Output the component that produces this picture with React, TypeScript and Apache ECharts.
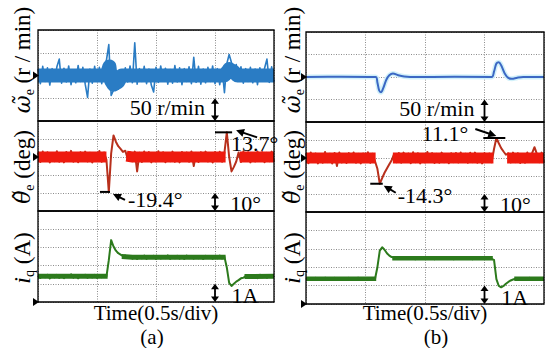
import React, { useEffect, useRef } from "react";
import * as echarts from "echarts";

const FONT = "'Liberation Serif', serif";
const GREEK = "'DejaVu Serif', serif";

// time axis in divisions (0.5 s/div), samples every 0.04 div
const STEP = 0.04;
const timeRange = [0, 4];
const speedRange = [-100, 100]; // r/min, 50 r/min per div
const angleRange = [-30, 20]; // deg, 10 deg per div
const currentRange = [0, 5]; // A, 1 A per div
const intervals = [50, 10, 1];

// (a) speed error, r/min
const speedA = [
  14, -18, 20, -13, 17, -21, 15, -12, 19, 36,
  -17, 16, -14, 21, -20, 12, -16, 22, -13, 18,
  -19, -48, 14, -17, 20, -13, 18, -18, 22, 34,
  68, -44, -32, -24, -30, 8, -20, 17, -14, 21,
  -16, 72, -19, 15, -13, 20, -18, 14, -21, -36,
  18, -15, 21, -12, 16, -19, 13, -17, 22, -14,
  17, -20, 15, -13, 19, -18, 40, -15, 20, -19,
  14, -16, 18, -13, 21, -18, 15, -20, 16, -38,
  26, 46, 28, 8, 24, -12, 19, -17, 15, -13,
  18, -16, 14, -20, 17, -12, 16, 36, -15, 19, -14,
];
// (a) speed error, centre of the noise band [div, r/min]
const speedBandA = [
  [[0, 0], [1.14, 0], [1.18, 8], [1.21, 20], [1.24, -12], [1.28, -20], [1.36, -14], [1.42, 0],
   [3.16, 0], [3.2, 6], [3.24, 14], [3.32, 8], [3.38, 0], [4, 0]],
];

// (a) angle error, deg
const angleA = [
  2.5, -2.8, 3, -2, 2.6, -3, 1.8, -2.4, 3.2, -2.6,
  2.2, -3, 2.8, -1.8, 3.4, -2.6, 2, -2.9, 2.6, -2.2,
  3, -2.5, 2.4, -3.1, 2.2, -2, 3.3, -2.7, 2.5, -1.5,
  -19.4, 2, 12, 8.5, 6, 4.5, 2.8, 3.5, -1, 2.6,
  -2.4, 3, -8, 2.4, -2.8, 3.1, -2.2, 2.7, -3, 2,
  -2.5, 3.2, -2.1, 2.6, -2.9, 2.2, -2.4, 3, -2.7, 2.1,
  -3, 2.8, -2.2, 2.5, -2.6, 3.1, -5, 2.3, -2.8, 2.6,
  -2.2, 3, -2.5, 2.2, -3.1, 2.7, -2, 2.9, -2.6, 2.4,
  13.7, 0, -8, -5.5, -2.5, 2.5, -2.8, 3, -2.2, 2.6,
  -3, 2.2, -2.5, 3.1, -2.1, 2.7, -2.9, 2.3, -2.4, 3, -2.6,
];
const angleBandA = [
  [[0, 0], [1.16, 0]],
  [[1.5, 0.5], [1.6, 0], [3.18, 0]],
  [[3.42, 0], [4, 0]],
];

// (a) q-axis current, A
const currentA = [
  1.45, 1.32, 1.48, 1.36, 1.5, 1.3, 1.44, 1.35, 1.49, 1.33,
  1.46, 1.31, 1.47, 1.38, 1.52, 1.34, 1.45, 1.3, 1.48, 1.37,
  1.5, 1.33, 1.46, 1.35, 1.49, 1.32, 1.47, 1.36, 1.44, 1.4,
  2.3, 3.4, 3.05, 2.82, 2.68, 2.6, 2.52, 2.56, 2.44, 2.53,
  2.38, 2.5, 2.36, 2.52, 2.4, 2.55, 2.37, 2.5, 2.42, 2.54,
  2.36, 2.51, 2.39, 2.53, 2.41, 2.56, 2.37, 2.5, 2.4, 2.54,
  2.38, 2.52, 2.36, 2.55, 2.41, 2.5, 2.38, 2.53, 2.4, 2.51,
  2.36, 2.54, 2.42, 2.5, 2.37, 2.53, 2.4, 2.55, 2.39, 2.48,
  1.9, 1.05, 0.88, 1.0, 1.12, 1.2, 1.3, 1.33, 1.42, 1.32,
  1.48, 1.35, 1.46, 1.31, 1.5, 1.36, 1.45, 1.33, 1.48, 1.37, 1.44,
];
const currentBandA = [
  [[0, 1.41], [1.18, 1.41]],
  [[1.42, 2.5], [1.6, 2.46], [3.18, 2.46]],
  [[3.5, 1.4], [4, 1.41]],
];

// (b) speed error, [div, r/min]
const speedB = [
  [0, 0], [0.6, 0.5], [1.17, 0], [1.2, -12], [1.23, -30], [1.26, -34],
  [1.3, -24], [1.35, -6], [1.4, 4], [1.46, 8], [1.55, 4], [1.65, 1],
  [1.75, 0], [2.5, 0.5], [3.12, 0], [3.16, 12], [3.2, 30], [3.24, 33],
  [3.28, 26], [3.34, 8], [3.4, -2], [3.46, -4], [3.55, -1.5], [3.65, 0],
  [4, 0],
];

// (b) angle error, deg
const angleB = [
  2.6, -2.9, 3.1, -2.2, 2.5, -3, 2, -2.6, 3.3, -2.3,
  2.4, -3.1, 2.8, -4.5, 3, -2.5, 2.2, -2.8, 2.7, -2.1,
  3.1, -2.6, 2.3, -3, 2.5, -2.2, 3.2, -2.7, 2.4, -1.8,
  -6, -14.3, -11.2, -8.2, -5.8, -3.5, -1.2, 2.2, -2.4, 2.8,
  -2.6, 3, -2.2, 2.5, -2.9, 3.2, -2.4, 2.6, -3, 2.1,
  -2.5, 3.3, -2.2, 2.7, -2.8, 2.3, -2.6, 3, -2.4, 2.2,
  -2.9, 2.6, -2.3, 2.8, -2.5, 3.1, -2.2, 2.4, -2.7, 2.9,
  -2.3, 3, -2.6, 2.2, -3, 2.7, -2.1, 2.5, -2.4, 5,
  11.1, 8.2, 5.5, 3.6, 1.8, 2.6, -2.5, 3, -2.3, 2.6,
  -2.8, 2.2, -2.6, 3.1, -2.2, 2.7, 6, 2.3, -2.4, 3, -2.6,
];
const angleBandB = [
  [[0, 0], [1.17, 0]],
  [[1.46, 0], [3.15, 0]],
  [[3.38, 0], [4, 0]],
];

// (b) q-axis current, A
const currentB = [
  1.4, 1.31, 1.41, 1.33, 1.42, 1.3, 1.39, 1.32, 1.43, 1.34,
  1.4, 1.3, 1.42, 1.35, 1.41, 1.31, 1.39, 1.33, 1.42, 1.3,
  1.4, 1.34, 1.43, 1.32, 1.39, 1.31, 1.41, 1.33, 1.4, 1.36,
  2.0, 2.9, 3.08, 2.95, 2.76, 2.63, 2.55, 2.53, 2.47, 2.53,
  2.45, 2.52, 2.44, 2.53, 2.46, 2.51, 2.43, 2.52, 2.45, 2.53,
  2.44, 2.51, 2.46, 2.54, 2.43, 2.52, 2.45, 2.51, 2.44, 2.53,
  2.46, 2.52, 2.43, 2.51, 2.45, 2.54, 2.44, 2.52, 2.46, 2.51,
  2.43, 2.53, 2.45, 2.52, 2.44, 2.51, 2.46, 2.53, 2.45, 2.4,
  1.35, 0.98, 0.91, 0.98, 1.1, 1.2, 1.28, 1.33, 1.38, 1.32,
  1.41, 1.33, 1.4, 1.31, 1.42, 1.34, 1.39, 1.3, 1.41, 1.33, 1.38,
];
const currentBandB = [
  [[0, 1.37], [1.18, 1.37]],
  [[1.45, 2.49], [3.14, 2.49]],
  [[3.5, 1.37], [4, 1.37]],
];

const peaksA = [-19.4, 13.7];
const peaksB = [-14.3, 11.1];
const scaleLabels = ["50 r/min", "10°", "1A"];
const panelLabels = ["(a)", "(b)"];
const timeLabel = "Time(0.5s/div)";
const yTitles = [
  "{g|ω̃}{s|e}{n| (r / min)}",
  "{g|θ̃}{s|e}{n| (deg)}",
  "{m|i}{s|q}{n| (A)}",
];

const PANELS = [
  { left: 38, width: 236, tops: [30, 121, 211], heights: [91, 90, 91] },
  { left: 306, width: 238, tops: [32, 122, 212], heights: [90, 90, 92] },
];
const RANGES = [speedRange, angleRange, currentRange];

const px = (p: number, x: number) =>
  PANELS[p].left + ((x - timeRange[0]) / (timeRange[1] - timeRange[0])) * PANELS[p].width;
const py = (p: number, r: number, v: number) =>
  PANELS[p].tops[r] + ((RANGES[r][1] - v) / (RANGES[r][1] - RANGES[r][0])) * PANELS[p].heights[r];

const toXY = (arr: number[]) => arr.map((v, i) => [i * STEP, v]);

function arrowHead(x1: number, y1: number, x2: number, y2: number, len = 7, half = 3.5) {
  const dx = x2 - x1, dy = y2 - y1;
  const L = Math.hypot(dx, dy) || 1;
  const ux = dx / L, uy = dy / L;
  const bx = x2 - ux * len, by = y2 - uy * len;
  return {
    type: "polygon", z: 110,
    shape: { points: [[x2, y2], [bx - uy * half, by + ux * half], [bx + uy * half, by - ux * half]] },
    style: { fill: "#000" },
  };
}
function arrow(x1: number, y1: number, x2: number, y2: number, len = 8, half = 4) {
  const dx = x2 - x1, dy = y2 - y1;
  const L = Math.hypot(dx, dy) || 1;
  return [
    { type: "line", z: 110, shape: { x1, y1, x2: x2 - (dx / L) * len * 0.8, y2: y2 - (dy / L) * len * 0.8 }, style: { stroke: "#000", lineWidth: 2 } },
    arrowHead(x1, y1, x2, y2, len, half),
  ];
}
function dblArrow(x: number, y1: number, y2: number) {
  return [
    { type: "line", z: 110, shape: { x1: x, y1: y1 + 4, x2: x, y2: y2 - 4 }, style: { stroke: "#000", lineWidth: 1.8 } },
    arrowHead(x, y2, x, y1, 5.5, 4),
    arrowHead(x, y1, x, y2, 5.5, 4),
  ];
}
function txt(x: number, y: number, text: string, align = "left", size = 22) {
  return {
    type: "text", z: 120, x, y,
    style: { text, fill: "#000", font: `${size}px ${FONT}`, align, verticalAlign: "middle" },
  };
}
function hline(x1: number, x2: number, y: number) {
  return { type: "line", z: 110, shape: { x1, y1: y, x2, y2: y }, style: { stroke: "#000", lineWidth: 2 } };
}
function vlabel(x: number, y: number, text: string) {
  return {
    type: "text", z: 120, x, y, rotation: Math.PI / 2,
    style: {
      text, fill: "#000", font: `23px ${FONT}`, align: "center", verticalAlign: "middle",
      rich: {
        g: { fontFamily: GREEK, fontSize: 22, fontStyle: "italic", lineHeight: 28, verticalAlign: "middle" },
        m: { fontFamily: FONT, fontSize: 24, fontStyle: "italic", lineHeight: 28, verticalAlign: "middle" },
        s: { fontFamily: FONT, fontSize: 14, lineHeight: 14, verticalAlign: "bottom" },
        n: { fontFamily: FONT, fontSize: 23, lineHeight: 28, verticalAlign: "middle" },
      },
    },
  };
}

function buildGraphics() {
  const g: any[] = [];
  for (let p = 0; p < 2; p++) {
    const P = PANELS[p];
    for (let r = 0; r < 3; r++) {
      g.push({ type: "rect", z: 100, shape: { x: P.left, y: P.tops[r], width: P.width, height: P.heights[r] },
        style: { fill: "none", stroke: "#000", lineWidth: 1.3 } });
      const y0 = py(p, r, 0);
      g.push({ type: "polygon", z: 105, shape: { points: [[P.left + 1, y0], [P.left - 5, y0 - 4], [P.left - 5, y0 + 4]] }, style: { fill: "#000" } });
    }
    const xs = px(p, 3);
    g.push(...dblArrow(xs, py(p, 0, -50), py(p, 0, -100)));
    g.push(txt(px(p, 2.83), (py(p, 0, -50) + py(p, 0, -100)) / 2 - 2, scaleLabels[0], "right"));
    g.push(...dblArrow(xs, py(p, 1, -20), py(p, 1, -30)));
    g.push(txt(px(p, 3.26), (py(p, 1, -20) + py(p, 1, -30)) / 2 + 1, scaleLabels[1], "left"));
    g.push(...dblArrow(xs, py(p, 2, 1), py(p, 2, 0)));
    g.push(txt(px(p, 3.28), (py(p, 2, 1) + py(p, 2, 0)) / 2 + 3, scaleLabels[2], "left"));
    const lx = p === 0 ? 22 : 292;
    g.push(vlabel(lx, 60, yTitles[0]));
    g.push(vlabel(lx, 167, yTitles[1]));
    g.push(vlabel(lx, 258, yTitles[2]));
    g.push(txt(px(p, 2), 313, timeLabel, "center", 21));
    g.push(txt(p === 0 ? 152 : 436, 337, panelLabels[p], "center", 21));
  }
  {
    const yl = py(0, 1, peaksA[0]);
    const x2 = px(0, 1.22);
    g.push(hline(px(0, 1.05), x2, yl));
    g.push(...arrow(x2 + 15, yl + 8, x2 + 3, yl + 2));
    g.push(txt(x2 + 18, yl + 8, `${peaksA[0]}°`, "left"));
    const yh = py(0, 1, peaksA[1]);
    const xh2 = px(0, 3.29);
    g.push(hline(px(0, 3.0), xh2, yh));
    g.push(...arrow(xh2 + 25, yh + 5, xh2 + 4, yh - 2));
    g.push(txt(xh2 - 1, yh + 11, `${peaksA[1]}°`, "left"));
  }
  {
    const yl = py(1, 1, peaksB[0]);
    const x2 = px(1, 1.29);
    g.push(hline(px(1, 1.08), x2, yl));
    g.push(...arrow(x2 + 13, yl + 9, x2 + 1, yl + 2));
    g.push(txt(x2 + 15, yl + 12, `${peaksB[0]}°`, "left"));
    const yh = py(1, 1, peaksB[1]);
    g.push(hline(px(1, 2.98), px(1, 3.35), yh));
    g.push(...arrow(px(1, 2.98) - 8, yh - 9, px(1, 2.98) + 13, yh - 2));
    g.push(txt(px(1, 2.98) - 15, yh - 5, `${peaksB[1]}°`, "right"));
  }
  return g;
}

export default function App() {
  const ref = useRef<HTMLDivElement>(null);
  useEffect(() => {
    if (!ref.current) return;
    const chart = echarts.init(ref.current, undefined, { renderer: "svg" });
    const grids: any[] = [], xAxes: any[] = [], yAxes: any[] = [];
    const split = { show: true, lineStyle: { color: "#8c8c8c", type: [1, 1.5], width: 1 } };
    for (let p = 0; p < 2; p++) {
      for (let r = 0; r < 3; r++) {
        const idx = p * 3 + r;
        grids.push({ left: PANELS[p].left, top: PANELS[p].tops[r], width: PANELS[p].width, height: PANELS[p].heights[r], show: false });
        xAxes.push({ type: "value", gridIndex: idx, min: timeRange[0], max: timeRange[1], interval: 1,
          axisLabel: { show: false }, axisTick: { show: false }, axisLine: { show: false }, splitLine: split });
        yAxes.push({ type: "value", gridIndex: idx, min: RANGES[r][0], max: RANGES[r][1], interval: intervals[r],
          axisLabel: { show: false }, axisTick: { show: false }, axisLine: { show: false }, splitLine: split });
      }
    }
    const line = (data: any[], idx: number, color: string, width: number, z = 3) => ({
      type: "line", xAxisIndex: idx, yAxisIndex: idx, data, symbol: "none", showSymbol: false,
      lineStyle: { color, width, join: "round", cap: "butt" }, z, silent: true,
    });
    const bands = (segs: any[], idx: number, color: string, width: number) =>
      segs.map((s) => line(s, idx, color, width, 4));
    chart.setOption({
      animation: false,
      textStyle: { fontFamily: FONT },
      grid: grids, xAxis: xAxes, yAxis: yAxes,
      series: [
        line(toXY(speedA), 0, "#2a7cc4", 1.6),
        ...bands(speedBandA, 0, "#2a7cc4", 14),
        line(toXY(angleA), 1, "#b8301c", 2),
        ...bands(angleBandA, 1, "#ee1a0e", 11),
        line(toXY(currentA), 2, "#2c7a1c", 2),
        ...bands(currentBandA, 2, "#2c7a1c", 5),
        { ...line(speedB, 3, "#d2f1fa", 5, 2), smooth: 0.35 },
        { ...line(speedB, 3, "#3b68c4", 2, 3), smooth: 0.35 },
        line(toXY(angleB), 4, "#b8301c", 2),
        ...bands(angleBandB, 4, "#ee1a0e", 11),
        line(toXY(currentB), 5, "#2c7a1c", 2),
        ...bands(currentBandB, 5, "#2c7a1c", 4.5),
      ],
      graphic: buildGraphics(),
    });
    return () => chart.dispose();
  }, []);
  return <div ref={ref} style={{ position: "fixed", left: 0, top: 0, width: 550, height: 348, background: "#fff" }} />;
}
